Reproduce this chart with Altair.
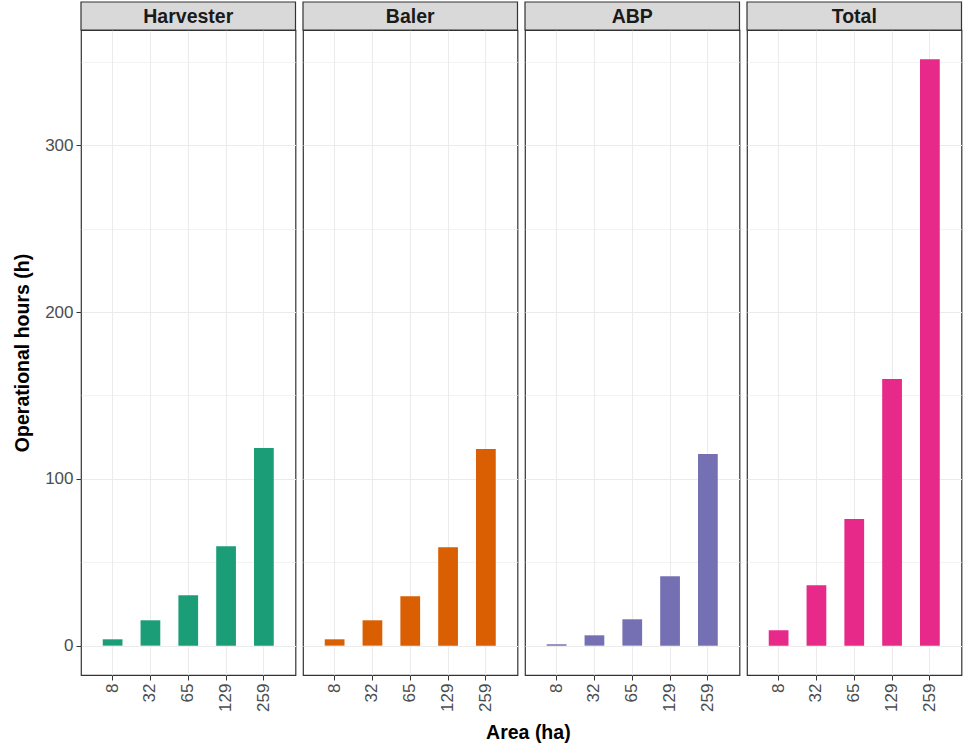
import altair as alt
import pandas as pd

# ---- data ----
areas = ["8", "32", "65", "129", "259"]
machines = ["Harvester", "Baler", "ABP", "Total"]
harvester_h = [3.8, 15.2, 30.2, 59.6, 118.5]
baler_h = [3.8, 15.2, 29.6, 59.0, 117.9]
abp_h = [0.8, 6.2, 15.8, 41.6, 114.9]
total_h = [9.2, 36.2, 75.9, 159.9, 351.5]
colors = ["#1b9e77", "#d95f02", "#7570b3", "#e7298a"]
y_ticks = [0, 50, 100, 150, 200, 250, 300, 350]

series = {"Harvester": harvester_h, "Baler": baler_h, "ABP": abp_h, "Total": total_h}
rows = []
for m in machines:
    for a, v in zip(areas, series[m]):
        rows.append({"machine": m, "area": a, "hours": v})
df = pd.DataFrame(rows)

W = 214.5
H = 645
STRIP = 28

FONT = "Liberation Sans"
GRID_W = {"condition": {"test": "datum.value % 100 == 0", "value": 1.1}, "value": 0.6}
TICK_OP = {"condition": {"test": "datum.value % 100 == 0", "value": 1}, "value": 0}


def make_panel(machine, first):
    if first:
        y_axis = alt.Axis(
            title="Operational hours (h)",
            values=y_ticks,
            labelExpr="datum.value % 100 == 0 ? datum.label : ''",
            grid=True,
            gridColor="#ebebeb",
            gridWidth=GRID_W,
            tickOpacity=TICK_OP,
            labelFontSize=17,
            labelColor="#4d4d4d",
            labelPadding=3,
            tickColor="#333333",
            tickSize=5,
            titleFontSize=19.5,
            titleFontWeight="bold",
            titleColor="#000000",
            titlePadding=12,
            domain=False,
        )
    else:
        y_axis = alt.Axis(
            title=None,
            values=y_ticks,
            labels=False,
            ticks=False,
            grid=True,
            gridColor="#ebebeb",
            gridWidth=GRID_W,
            domain=False,
        )

    base = alt.Chart(df).transform_filter(alt.datum.machine == machine)

    bars = base.mark_bar().encode(
        x=alt.X(
            "area:N",
            sort=areas,
            scale=alt.Scale(paddingInner=0.478, paddingOuter=0.575),
            axis=alt.Axis(
                title=None,
                labelAngle=270,
                grid=True,
                gridColor="#ebebeb",
                gridWidth=1.1,
                labelFontSize=17,
                labelColor="#4d4d4d",
                labelPadding=3,
                tickColor="#333333",
                tickSize=5,
                domain=False,
            ),
        ),
        y=alt.Y(
            "hours:Q",
            scale=alt.Scale(domain=[-17.6, 369.1], nice=False, zero=False),
            axis=y_axis,
        ),
        color=alt.Color("machine:N", scale=alt.Scale(domain=machines, range=colors), legend=None),
    )

    strip_rect = base.transform_filter(alt.datum.area == "8").mark_rect(
        fill="#d9d9d9", stroke="#333333", strokeWidth=1.2
    ).encode(
        x=alt.value(0), x2=alt.value(W), y=alt.value(-STRIP), y2=alt.value(0)
    )

    strip_text = base.transform_filter(alt.datum.area == "8").mark_text(
        font=FONT, fontSize=19.5, fontWeight="bold", color="#1a1a1a", baseline="middle", align="center"
    ).encode(
        x=alt.value(W / 2), y=alt.value(-STRIP / 2 + 0.5), text="machine:N"
    )

    return alt.layer(bars, strip_rect, strip_text).properties(width=W, height=H)


panels = [make_panel(m, i == 0) for i, m in enumerate(machines)]

chart = alt.hconcat(*panels, spacing=4).properties(
    title=alt.TitleParams(
        "Area (ha)", orient="bottom", anchor="middle", fontSize=19.5, fontWeight="bold",
        color="#000000", font=FONT, offset=12, dx=41,
    ),
    padding={"left": 12, "top": 0, "right": 0, "bottom": 0},
).configure(
    font=FONT,
).configure_view(
    stroke="#333333", strokeWidth=1.2,
).configure_axis(
    labelFont=FONT, titleFont=FONT,
)

chart.save("out.html", embed_options={"renderer": "svg", "actions": False})
